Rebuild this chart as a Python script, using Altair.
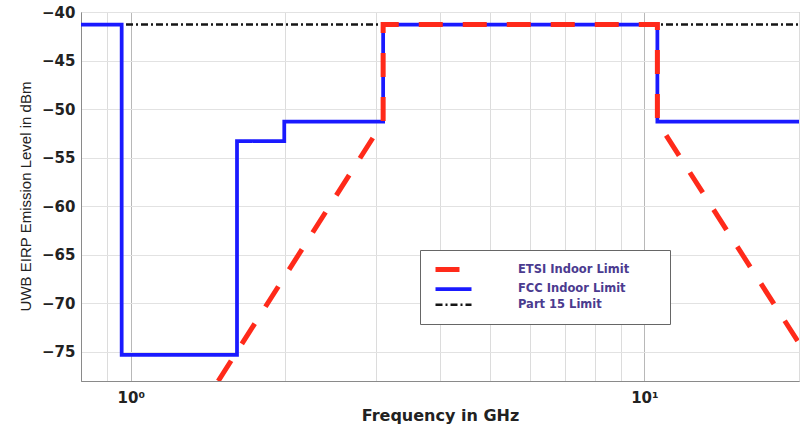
import altair as alt
import pandas as pd

# Emission masks (frequency in GHz, EIRP level in dBm)
series_names = ["ETSI Indoor Limit", "FCC Indoor Limit", "Part 15 Limit"]

etsi_freq = [1.48, 3.1, 3.1, 10.6, 10.6, 20.0]
etsi_level = [-78.0, -51.3, -41.3, -41.3, -51.3, -74.1]

fcc_freq = [0.8, 0.96, 0.96, 1.61, 1.61, 1.99, 1.99, 3.1, 3.1, 10.6, 10.6, 20.0]
fcc_level = [-41.3, -41.3, -75.3, -75.3, -53.3, -53.3, -51.3, -51.3, -41.3, -41.3, -51.3, -51.3]

part15_freq = [0.8, 20.0]
part15_level = [-41.3, -41.3]

x_grid = [0.9, 1, 2, 3, 4, 5, 6, 7, 8, 9, 10, 20]
y_ticks = [-75, -70, -65, -60, -55, -50, -45, -40]

series_colors = ["#ff2a1a", "#1a1aff", "#151515"]
series_dash = [[24, 20], [1, 0], [7, 3, 2, 3]]
series_width = [5, 2.5, 2]


def frame(name, freqs, levels):
    return pd.DataFrame({
        "series": name,
        "seq": list(range(len(freqs))),
        "freq": freqs,
        "level": levels,
    })


x_enc = alt.X(
    "freq:Q",
    scale=alt.Scale(type="log", domain=[0.8, 20], nice=False),
    axis=alt.Axis(
        values=x_grid,
        labelExpr="datum.value == 1 ? '10⁰' : datum.value == 10 ? '10¹' : ''",
        title="Frequency in GHz",
        titleFont="DejaVu Sans",
        titleFontWeight="bold",
        titleFontSize=16,
        titleColor="#222222",
        titleY=39,
        titleBaseline="alphabetic",
        labelFont="DejaVu Sans",
        labelFontWeight="bold",
        labelFontSize=15,
        labelColor="#222222",
        labelPadding=9,
        ticks=False,
        gridColor={"condition": {"test": "datum.value === 1 || datum.value === 10", "value": "#b8b8b8"}, "value": "#dcdcdc"},
    ),
)

y_enc = alt.Y(
    "level:Q",
    scale=alt.Scale(domain=[-78, -40], nice=False, zero=False),
    axis=alt.Axis(
        values=y_ticks,
        title="UWB EIRP Emission Level in dBm",
        titleFont="Liberation Sans",
        titleFontWeight="normal",
        titleFontSize=15,
        titleColor="#222222",
        titleAngle=270,
        titleX=-56,
        titleY=184,
        titleAlign="center",
        titleBaseline="middle",
        labelFont="DejaVu Sans",
        labelFontWeight="bold",
        labelFontSize=15,
        labelColor="#222222",
        labelPadding=6,
        ticks=False,
        gridColor="#e2e2e2",
    ),
)

# Legend line sample: a 36 px long stroke starting at the entry's left edge
legend_stroke = "M-1,0H8"

color_enc = alt.Color(
    "series:N",
    scale=alt.Scale(domain=series_names, range=series_colors),
    legend=alt.Legend(
        title=None,
        orient="none",
        legendX=339,
        legendY=238,
        symbolType=legend_stroke,
        symbolSize=64,
        labelOffset=72,
        labelFont="DejaVu Sans",
        labelFontWeight="bold",
        labelFontSize=11.5,
        labelColor="#4b3b8f",
        labelLimit=300,
        labelExpr="datum.label + '\u2800\u2800\u2800'",
        rowPadding=1,
        padding=13,
        fillColor="white",
        strokeColor="#666666",
    ),
)
dash_enc = alt.StrokeDash("series:N", scale=alt.Scale(domain=series_names, range=series_dash))
width_enc = alt.StrokeWidth("series:N", scale=alt.Scale(domain=series_names, range=series_width))


def mask_layer(df):
    return alt.Chart(df).mark_line(clip=True, strokeCap="butt").encode(
        x=x_enc, y=y_enc, color=color_enc, strokeDash=dash_enc, strokeWidth=width_enc,
        order="seq:Q",
    )


part15 = mask_layer(frame("Part 15 Limit", part15_freq, part15_level))
fcc = mask_layer(frame("FCC Indoor Limit", fcc_freq, fcc_level))
etsi = mask_layer(frame("ETSI Indoor Limit", etsi_freq, etsi_level))

chart = alt.layer(part15, fcc, etsi).properties(
    width=718,
    height=369,
    padding={"left": 81, "top": 12, "right": 9, "bottom": 43},
    autosize=alt.AutoSizeParams(type="none"),
    background="white",
).configure_view(
    stroke="#9a9a9a",
).configure_axis(
    domainColor="#8a8a8a",
)

chart.save("out.html", embed_options={"renderer": "svg", "actions": False})
